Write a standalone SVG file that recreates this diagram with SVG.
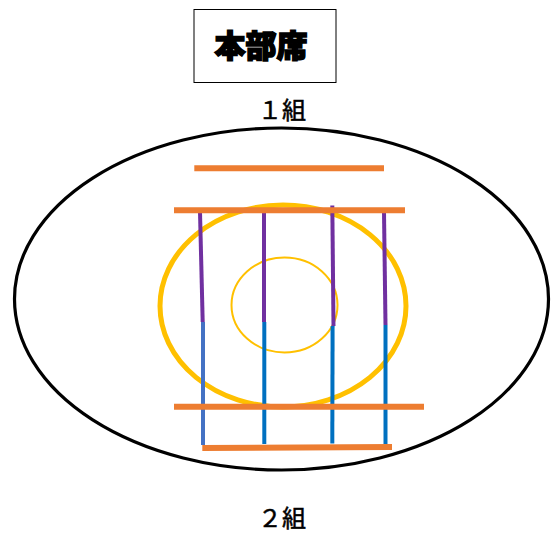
<svg xmlns="http://www.w3.org/2000/svg" width="555" height="534" viewBox="0 0 555 534">
<style>
.or{stroke:#ED7D31;stroke-width:6;fill:none}
.pu{stroke:#7030A0;stroke-width:4;fill:none}
.bl{stroke:#0070C0;stroke-width:4;fill:none}
.lb{font-family:"Liberation Serif","Noto Sans CJK JP",serif;font-size:24px;fill:#000;stroke:#000;stroke-width:0.5}
</style>
<rect width="555" height="534" fill="#fff"/>
<g id="title">
<rect x="194" y="9.5" width="142" height="73" fill="#fff" stroke="#000" stroke-width="1"/>
<text x="261" y="57" text-anchor="middle" font-family="'Noto Sans CJK JP',sans-serif" font-weight="900" font-size="31" stroke="#000" stroke-width="1.5">本部席</text>
</g>
<g id="label1"><text class="lb" x="282" y="119" text-anchor="middle">１組</text></g>
<g id="label2"><text class="lb" x="282" y="527" text-anchor="middle">２組</text></g>
<g id="field"><ellipse cx="281.5" cy="299" rx="267" ry="171" fill="none" stroke="#000" stroke-width="3.2"/></g>
<g id="rings">
<ellipse cx="283" cy="306" rx="123" ry="101" fill="none" stroke="#FFC000" stroke-width="5"/>
<ellipse cx="284.5" cy="305" rx="53" ry="47.5" fill="none" stroke="#FFC000" stroke-width="2"/>
</g>
<g id="connectors">
<line class="pu" x1="200" y1="212" x2="202.7" y2="322"/>
<line x1="203" y1="322" x2="203" y2="445" stroke="#4472C4" stroke-width="4"/>
<line class="pu" x1="264" y1="212" x2="264" y2="322"/>
<line class="bl" x1="264.3" y1="322" x2="264.3" y2="444"/>
<line class="pu" x1="332.3" y1="205.5" x2="333.5" y2="326"/>
<line class="bl" x1="332.6" y1="326" x2="332.3" y2="443.5"/>
<line class="pu" x1="384" y1="212" x2="385.5" y2="325"/>
<line class="bl" x1="385.5" y1="325" x2="385.5" y2="444"/>
<line class="or" x1="194.3" y1="168.3" x2="384" y2="168.3"/>
<line class="or" x1="174" y1="210.3" x2="405" y2="210.3"/>
<line class="or" x1="174" y1="406.7" x2="424" y2="406.7"/>
<line class="or" x1="202.3" y1="448" x2="392" y2="447"/>
</g>
</svg>
